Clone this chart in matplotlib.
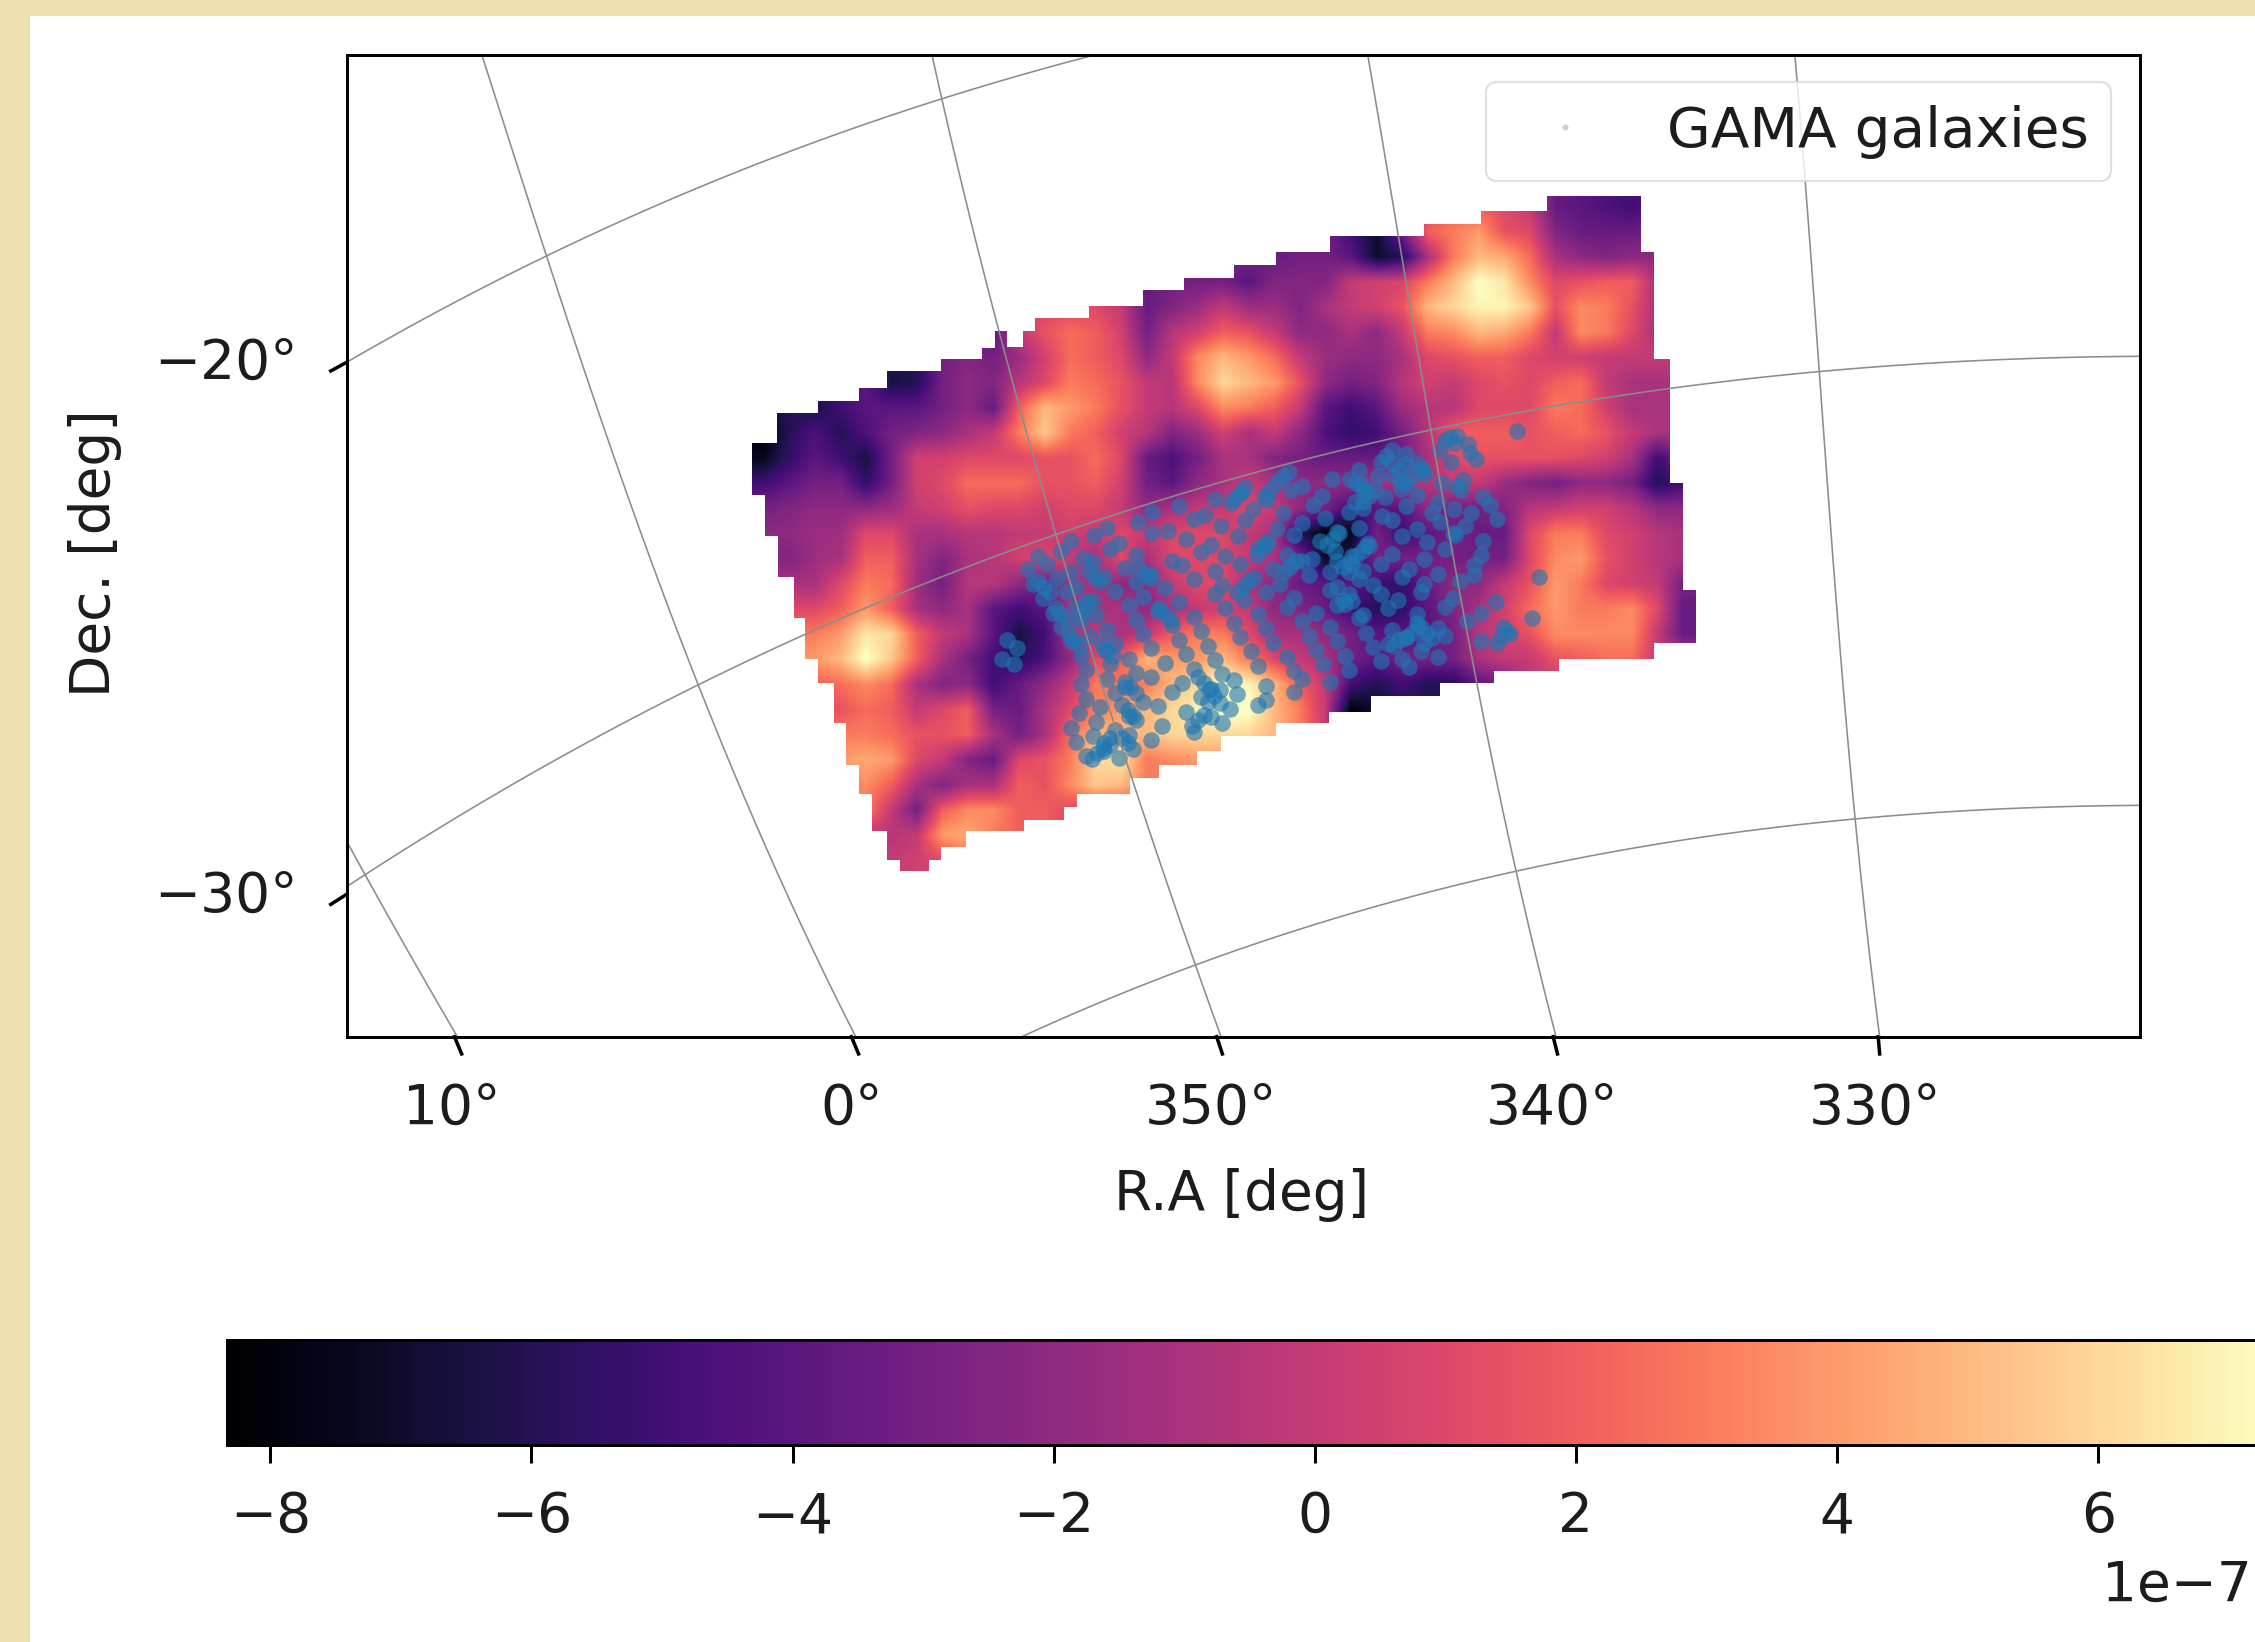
import numpy as np
import matplotlib
matplotlib.use("Agg")
import matplotlib.pyplot as plt
from matplotlib.patches import Polygon, Rectangle
from matplotlib.lines import Line2D

# Map values in units of 1e-7, rows top to bottom, columns left to right
map_r00 = [-3,-3,-3,-3,-3,-3,-3,-3,-3,-3,-3,-3,-3,-3,-3,-3,-3,-3,-3,-3,-3,-3,-3,-3,-3,-2,1,2,2,1,0,-3.5,-4,-4.5,-5,-4,-4]
map_r01 = [-3,-3,-3,-3,-3,-3,-3,-3,-3,-3,-3,-3,-3,-3,-3,-3,-3,-3,-3,-3,-3,-3,-3,-5,-7,-3,2,3,4,1.5,1,-2.5,-3.5,-3.5,-3.5,-3,-3]
map_r02 = [-3,-3,-3,-3,-3,-3,-3,-3,-3,-3,-3,-3,-3,-3,-3,-3,-3,-3,-3,-3,-3.5,-3,-3,-4,-7,-6,-1,3,5,4.5,2.5,-1,-2,-2.5,-2,-2,-2]
map_r03 = [-3,-3,-3,-3,-3,-3,-3,-3,-3,-3,-3,-2.5,-2.5,-2.5,-3,-3.5,-3,-3,-3,-4,-2.5,-2.5,-2.5,0,0.5,0.8,3,5,7.5,6.5,3.5,1,1.5,2,2,-1,-1]
map_r04 = [-3,-3,-3,-3,-3,-3,-3,-3,-3,-3,0,1,1,1,0,-3.5,-2.5,-1.5,0,-1.5,-1.5,-2.5,-1,0,0.5,1.5,5,6,7,7,5.5,1.5,3.5,3,1.5,-1,-1]
map_r05 = [-3,-3,-3,-3,-3,-3,-3,-3,-3.5,-4,0,1.5,2.5,2,0.5,-3,-0.5,0.5,2,1.5,0,-2,-2,-1,-2,0,3,3.5,5,4.5,3,0,3.5,3,1,-1,-1]
map_r06 = [-5,-5,-5,-5,-5,-6,-6,-3,-2.5,-3,-1.5,0.5,2.5,2,1,-2,0,3.5,5,4,2.5,0,-1.5,-2,-2,-1,1,1.5,2,2,1,0.5,0.5,0,0,0,0]
map_r07 = [-5,-5,-5,-5,-4,-6.5,-6,-3,-2,-2.5,-0.5,1,3,2.5,1.5,0,-0.5,3.5,6,5,4,1.5,-2,-3,-2.5,-0.5,0.5,0,1,1.5,1,2,2.5,0,-1,-1,-1]
map_r08 = [-7,-6,-6.5,-5,-4,-4,-4,-3,-2,-3.5,2,5,4,3,1.5,0,-0.5,1,3.5,3,2,0,-4,-5,-4,-1.5,-0.5,-0.5,1,1,1,3,2.5,0.5,-1,-1,-1]
map_r09 = [-8,-6,-4.5,-6,-4.5,-3,-2.5,-2,-1,0,3,5.5,3,2,0.5,-0.5,-2.5,-1.5,0.5,-1,0,-2,-4.5,-5.5,-5,-3,-0.5,2,2,2,1.5,2,2.5,1.5,0,-1,-1]
map_r10 = [-7.5,-5.5,-4,-5,-6.5,-3,0.5,0.5,1,1,1,1.5,1.5,2.5,1,-3.5,-4.5,-3,-1,-1,-2.5,-3,-3.5,-3.5,-3.5,-3,-1,1,1.5,1.5,1.5,1.5,1,0.5,-1,-5,-3]
map_r11 = [-5,-4,-3,-3,-5.5,-3,0.5,1,2.5,2.5,2.5,1.5,1.5,2,0.5,-3,-4,-2,-1,0,-1,-2,-2,-2,-1,-1,-0.5,0,0,-1.5,-2.5,-3,-2,-2,-3,-6,-5]
map_r12 = [-3,-2.5,-2,-2,-2,-1.5,0,0.5,1.5,1,1,0.5,1,1,0,-2,-1,0,0,1,0,-2,-3,-5,-4,-4,-2,-3,-3,-2.5,-0.5,0,0.5,0.5,-0.5,-2,-2]
map_r13 = [-2,-2,-1.5,-1.5,1,1,-1,-1,-0.5,-0.5,0,0,0.5,0,1,0,1,1,1,0,-1,-6,-8,-7.5,-3,-5,-4,-3,-3.5,-3.5,1,3,3,1,0.5,-0.5,-1]
map_r14 = [-2.5,-2.5,-1.5,-1,2,2,-1,-2.5,-1,-0.5,0.5,1,0,-1,1,-1,1,1,1,0,-1,-3,-7,-6,-3,-3,-3,-3,-3,-3,1,3.5,4,1.5,0.5,-0.5,-1]
map_r15 = [-1,-1,-1,1,3,2.5,-1.5,-3,-0.5,-0.5,-2,-3.5,-1,-1,-2,-2,0,1,1,-1,-2,-3.5,-4,-4,-5,-5.5,-3.5,-2,-2,0,1.5,4,3,1,0.5,0,-3]
map_r16 = [1,1,1,2,4,2,-1,-2,-1,-4,-5,-4,-1,-1,-1,-2,-1,0,0.5,0,-2,-2.5,-3.5,-5,-6,-5.5,-4,-2.5,-1,0.5,2.5,4,3,3,3.5,1,-3.5]
map_r17 = [3,3,3,4,6.5,6,2,0,-1,-4,-6.5,-5,-1,0,-1,0,2,3,3,1,-1,-1,-2,-3,-4,-4,-4,-3,-0.5,0.5,1.5,3.5,3.5,3.5,3.5,0,-3.5]
map_r18 = [4,4,4,5,7.5,5.5,2,-1,-3,-5,-6,-4.5,-2,1,2,5,4,4,5,3,1,0,-1,-3,-4,-3,-3,-3,-1,0,0,1.5,2,2.5,2.5,0,0]
map_r19 = [2,2,2,2.5,3.5,2.5,-1,-2.5,-2,-5,-3.5,-2,0,3,3,3,5,6,7.5,7,5,2,0,-5,-6,-5,-6,-6,-4,-3,0,0,0,0,0,0,0]
map_r20 = [1,1,1,1.5,2.5,2,0,1,2,-3,-3.5,-1,1,3,4,5,6,7,8,7.5,5,3,0,-8,-7,-6,-6,-6,-6,-6,0,0,0,0,0,0,0]
map_r21 = [3,3,3,3,3,2.5,1.5,1.5,2,-1,-3,-1,2.5,5,5,5,6,6,6,6,5,3,0,-7,-6,-6,-6,-6,-6,-6,0,0,0,0,0,0,0]
map_r22 = [4,4,4,4,4.5,4,1,0,-2.5,-3.5,1,1.5,3,6,6.5,3,3.5,4,4,4,4,3,0,0,0,0,0,0,0,0,0,0,0,0,0,0,0]
map_r23 = [3,3,3,3,3.5,2,-1,-2.5,-1,-1,2,1.5,3.5,5.5,5,3,3,3,3,3,3,3,0,0,0,0,0,0,0,0,0,0,0,0,0,0,0]
map_r24 = [3,3,3,3,3,0,-3,2,3.5,3.5,2,2,1,1,1,1,1,1,1,1,1,1,0,0,0,0,0,0,0,0,0,0,0,0,0,0,0]
map_r25 = [0,0,0,0,0,-0.5,0,4,4.5,3,2,2,1,1,1,1,1,1,1,1,1,1,0,0,0,0,0,0,0,0,0,0,0,0,0,0,0]
map_r26 = [0,0,0,0,0,0,0.5,1,3,3,2,2,1,1,1,1,1,1,1,1,1,1,0,0,0,0,0,0,0,0,0,0,0,0,0,0,0]
map_rows = [map_r00,map_r01,map_r02,map_r03,map_r04,map_r05,map_r06,map_r07,map_r08,map_r09,
            map_r10,map_r11,map_r12,map_r13,map_r14,map_r15,map_r16,map_r17,map_r18,map_r19,
            map_r20,map_r21,map_r22,map_r23,map_r24,map_r25,map_r26]

# Survey footprint outline
foot_x = [523,540,540,569,569,597,597,617,617,654,654,683,683,692,692,700,700,711,711,720,720,757,757,795,795,823,823,858,858,887,887,925,925,990,990,1030,1030,1076,1076,1141,1141,1150,1150,1161,1161,1170,1170,1179,1179,1150,1150,1084,1084,1039,1039,1001,1001,953,953,924,924,887,887,849,849,832,832,806,806,786,786,749,749,740,740,712,712,672,672,654,654,646,646,626,626,617,617,606,606,597,597,588,588,580,580,569,569,560,560,552,552,541,541,532,532,523]
foot_y = [308,308,287,287,279,279,270,270,258,258,250,250,242,242,230,230,241,241,230,230,221,221,213,213,202,202,193,193,184,184,175,175,164,164,156,156,147,147,136,136,175,175,250,250,336,336,410,410,447,447,458,458,467,467,475,475,484,484,495,495,503,503,512,512,522,522,532,532,541,541,552,552,561,561,570,570,578,578,589,589,598,598,606,606,598,598,578,578,552,552,532,532,503,503,475,475,458,458,430,430,401,401,373,373,344,344]

# GAMA galaxy positions: general field
gal_x = [1005,1013,978,1001,1021,945,968,988,1009,905,926,948,958,975,991,1003,845,863,881,898,919,942,950,963,985,1000,1016,1031,
 801,820,838,856,871,892,913,938,948,961,978,996,1011,1036,770,791,812,830,849,866,888,905,921,945,968,985,1001,1019,1041,
 745,761,778,801,825,842,861,880,900,918,930,951,975,992,1012,1031,722,738,753,772,790,815,835,852,875,895,912,928,940,952,968,990,1005,1030,
 715,728,745,760,782,800,822,845,862,885,905,925,940,948,960,980,1000,1025,718,735,748,768,790,810,830,850,872,890,910,930,945,955,975,990,1015,
 725,742,755,775,795,820,845,865,880,900,925,940,960,972,988,1010,1040,732,748,762,785,805,830,852,875,895,915,935,948,965,985,1005,1030,
 738,752,770,790,815,835,858,880,905,925,945,968,985,1000,1020,1045,745,758,775,795,820,840,862,885,910,930,950,965,978,990,1005,1030,1050,
 752,768,785,800,825,845,870,895,915,935,955,975,988,1000,755,772,790,810,830,850,875,900,920,938,960,980,752,770,782,800,822,842,858,880,905,925,
 755,775,795,815,835,848,860,880,900,750,765,785,805,825,842,855,875,745,762,775,790,808,830,850,748,760,772,785,800,755,768,778,
 1055,700,707,697,705,1065,1070]
gal_y = [306,303,316,313,309,327,322,326,321,338,333,337,331,335,330,336,347,343,348,341,345,349,342,346,344,349,341,346,
 356,352,358,350,354,357,351,356,353,359,352,357,354,351,367,363,369,361,366,362,368,364,360,367,362,368,363,366,361,
 376,372,378,371,375,379,373,377,372,376,370,378,373,377,372,376,387,383,388,382,386,390,384,387,381,386,389,383,387,380,385,389,382,386,
 396,392,398,391,395,399,393,397,392,396,390,398,393,397,392,396,399,393,406,402,408,401,405,409,403,407,402,406,400,408,403,407,401,406,404,
 416,412,418,411,415,419,413,417,412,416,410,418,413,417,412,416,419,426,422,428,421,425,429,423,427,422,426,420,428,423,427,422,426,
 436,432,438,431,435,439,433,437,432,436,430,438,433,437,432,436,446,442,448,441,445,449,443,447,442,446,440,448,443,447,442,446,441,
 456,452,458,451,455,459,453,457,452,456,450,458,453,457,466,462,468,461,465,469,463,467,462,466,460,464,476,472,478,471,475,479,473,477,472,474,
 486,482,488,481,485,489,483,487,481,496,492,498,491,495,499,493,490,506,502,508,501,505,509,503,516,512,518,511,515,526,522,527,
 300,445,451,458,462,430,401]

# GAMA galaxy positions: denser clumps
clump_x = [943,947,939,952,956,948,978,982,974,973,969,977,964,960,968,985,989,1008,1012,1013,1017,1022,1026,
 892,888,896,883,879,862,866,858,982,986,978,992,996,988,973,969,943,947,939,950,934,930,938,927,923,931,
 934,938,930,897,893,901,878,874,882,864,860,868,1044,1048,1041,1025,1023,1010,
 726,730,722,738,742,734,747,751,743,770,774,766,786,790,782,784,788,780,784,780,788,763,767,759,768,772,
 796,800,792,761,765,757,810,814,806,756,760,752,837,841,833,844,848,840,833,829,837]
clump_y = [336,340,333,345,341,349,336,332,340,327,331,323,317,321,313,322,326,304,308,338,334,315,319,
 331,335,328,341,345,343,339,347,440,436,444,440,444,436,445,449,387,383,391,380,394,390,398,375,379,371,
 417,413,421,394,398,390,382,386,378,408,412,404,443,439,447,400,357,371,
 408,412,404,427,431,423,445,449,441,452,456,448,478,482,474,494,498,490,517,513,521,524,520,528,517,513,
 399,403,395,401,405,397,427,431,423,422,418,426,475,479,471,484,480,488,501,505,497]

# Axis labels and ticks
ra_labels = ["10°", "0°", "350°", "340°", "330°"]
dec_labels = ["\u221220°", "\u221230°"]
cbar_ticks = [-8, -6, -4, -2, 0, 2, 4, 6]
vmin, vmax = -8.33, 7.3

# Graticule curves
ra_lines = [([241,280,318],[585,655,721]),
            ([335,380,485,595],[38,178,475,721]),
            ([648,700,735,790,849],[38,250,375,550,721]),
            ([951,995,1024,1082],[38,299,460,721]),
            ([1248,1265,1290,1307],[38,258,570,721])]
dec_lines = [([241,380,550,762],[252,178,105,38]),
             ([241,485,560,735,995,1265,1488],[617,475,442,372,299,258,248]),
             ([710,850,1055,1290,1488],[721,665,605,570,560])]

W, H = 2255, 1642
DPI = 360
S = 1568.0
SH = 1142.0
FS = 11.0
TC = "#1c1c1c"
fig = plt.figure(figsize=(W/DPI, H/DPI), dpi=DPI, facecolor="white")
cream = "#EEDFB0"
fig.add_artist(Rectangle((0, 0), 21/S, 1, transform=fig.transFigure, color=cream, lw=0, zorder=-5))
fig.add_artist(Rectangle((0, 1-11/SH), 1, 11/SH, transform=fig.transFigure, color=cream, lw=0, zorder=-5))

ax = fig.add_axes([241/S, 1-721/SH, (1488-241)/S, (721-38)/SH])
ax.patch.set_alpha(0)
im = ax.imshow(np.array(map_rows), cmap="magma", vmin=vmin, vmax=vmax, interpolation="bilinear",
               extent=(522, 1179, 607, 135), aspect="auto", zorder=1)
clip = Polygon(np.column_stack([foot_x, foot_y]), closed=True, transform=ax.transData)
im.set_clip_path(clip)
ax.scatter(gal_x + clump_x, gal_y + clump_y, s=11, color="#1f77b4", alpha=0.62, linewidths=0, zorder=2)

for xs, ys in ra_lines:
    yy = np.linspace(min(ys), max(ys), 100)
    xx = np.polyval(np.polyfit(ys, xs, min(3, len(xs)-1)), yy)
    ax.plot(xx, yy, color="#8c8c8c", lw=0.32, zorder=3)
for xs, ys in dec_lines:
    xx = np.linspace(min(xs), max(xs), 100)
    yy = np.polyval(np.polyfit(xs, ys, min(3, len(xs)-1)), xx)
    ax.plot(xx, yy, color="#8c8c8c", lw=0.32, zorder=3)

ax.set_xlim(241, 1488)
ax.set_ylim(721, 38)
ax.set_xticks([]); ax.set_yticks([])
for s in ax.spines.values():
    s.set_linewidth(0.6)
    s.set_zorder(5)

# slanted WCS-style ticks
for (x0, y0, x1, y1) in [(316,721,321,733),(592,721,597,733),(846,721,850,733),(1080,721,1083,733),(1306,721,1307,733)]:
    ax.add_line(Line2D([x0, x1], [y0, y1], color="k", lw=0.7, clip_on=False))
for (x0, y0, x1, y1) in [(241,252,230,258),(241,622,230,629)]:
    ax.add_line(Line2D([x0, x1], [y0, y1], color="k", lw=0.7, clip_on=False))

for lab, xp in zip(ra_labels, [314, 592, 842, 1079, 1304]):
    ax.text(xp, 771, lab, ha="center", va="center", fontsize=FS, color=TC, clip_on=False)
for lab, yp in zip(dec_labels, [253, 624]):
    ax.text(207, yp, lab, ha="right", va="center", fontsize=FS, color=TC, clip_on=False)
ax.text(863, 831, "R.A [deg]", ha="center", va="center", fontsize=FS, color=TC, clip_on=False)
ax.text(66, 385, "Dec. [deg]", ha="center", va="center", rotation=90, fontsize=FS, color=TC, clip_on=False)

handle = Line2D([], [], linestyle="none", marker="o", ms=1.2, color="#1f77b4", alpha=0.3, mew=0, label="GAMA galaxies")
leg = ax.legend(handles=[handle], loc="upper right", bbox_to_anchor=(1468, 57), bbox_transform=ax.transData,
                fontsize=11.3, frameon=True, framealpha=0.8, edgecolor="0.85", borderaxespad=0, labelcolor=TC)
leg.get_frame().set_linewidth(0.45)

# Colour bar runs past the right edge of the figure
cx0, cx1 = 158, 1577
cax = fig.add_axes([cx0/S, 1-1005/SH, (cx1-cx0)/S, (1005-932)/SH])
cb = fig.colorbar(im, cax=cax, orientation="horizontal")
cb.set_ticks(cbar_ticks)
cb.ax.set_xticklabels([str(t).replace("-", "\u2212") for t in cbar_ticks])
cb.ax.tick_params(labelsize=FS, labelcolor=TC, width=0.6, length=3.5, pad=5.5)
cb.outline.set_linewidth(0.6)
fig.text(1566/S, 1-1103/SH, "1e\u22127", ha="right", va="center", fontsize=FS, color=TC)

fig.savefig("out.png", dpi=DPI, facecolor="white")
